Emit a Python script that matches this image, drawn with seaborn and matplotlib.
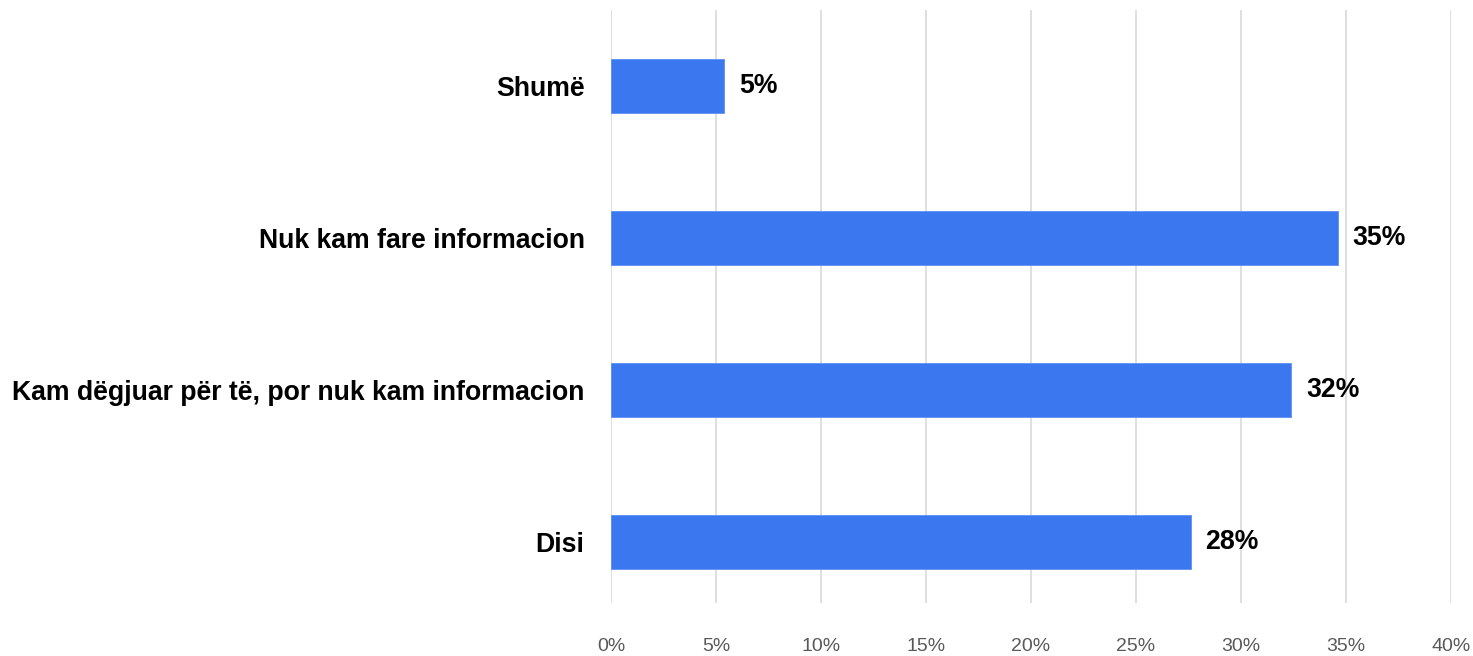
import pandas as pd
import numpy as np
import matplotlib.pyplot as plt
import seaborn as sns

categories = ["Shumë", "Nuk kam fare informacion",
              "Kam dëgjuar për të, por nuk kam informacion", "Disi"]
values = [5.4, 34.6, 32.4, 27.6]
labels = ["5%", "35%", "32%", "28%"]
xticks = [0, 5, 10, 15, 20, 25, 30, 35, 40]

df = pd.DataFrame({"cat": categories, "val": values})

sns.set_style("white")
plt.rcParams['font.family'] = ['Liberation Sans', 'DejaVu Sans']

fig = plt.figure(figsize=(14.73, 6.56), dpi=100)
ax = fig.add_axes([0.4148, 0.081, 0.5703, 0.904])
sns.barplot(data=df, x="val", y="cat", color="#3b78ef", saturation=1,
            width=0.355, ax=ax, edgecolor="#5f8ff2", linewidth=0.6)

ax.set_xlim(0, 40)
ax.set_ylim(3.4, -0.5)
ax.set_xticks(xticks)
ax.set_xticklabels([f"{t}%" for t in xticks], color="#595959", fontsize=14)
ax.tick_params(axis="both", length=0)
ax.tick_params(axis="x", pad=25)
ax.tick_params(axis="y", pad=19)
for lab in ax.get_yticklabels():
    lab.set_fontweight("bold")
    lab.set_fontsize(19.2)
    lab.set_color("black")
ax.set_xlabel("")
ax.set_ylabel("")
ax.xaxis.grid(True, color="#d9d9d9", linewidth=1.2)
ax.set_axisbelow(True)
for s in ax.spines.values():
    s.set_visible(False)

for i, (v, l) in enumerate(zip(values, labels)):
    ax.text(v + 0.7, i, l, va="center", ha="left", fontsize=19.2,
            fontweight="bold", color="black")

plt.savefig("out.png", dpi=100)
plt.close()
